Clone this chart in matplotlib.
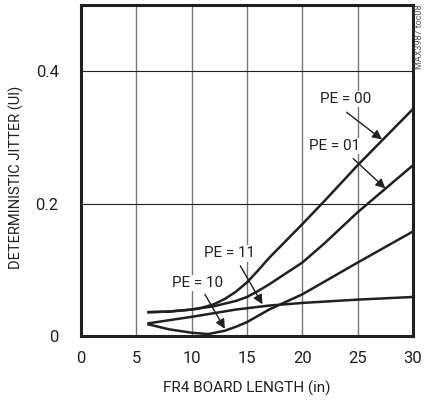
import matplotlib
matplotlib.use("Agg")
import matplotlib.pyplot as plt

plt.rcParams['font.family'] = ['Roboto', 'DejaVu Sans']

pe00_x = [6, 8, 10, 11, 12, 13, 14, 15, 16, 17, 18, 20, 22, 25, 30]
pe00_y = [0.036, 0.037, 0.040, 0.043, 0.048, 0.056, 0.067, 0.081, 0.099, 0.118, 0.135, 0.169, 0.204, 0.258, 0.343]
pe01_x = [6, 8, 10, 12, 14, 15, 16, 17, 18, 20, 22, 25, 30]
pe01_y = [0.036, 0.037, 0.040, 0.045, 0.053, 0.059, 0.068, 0.078, 0.089, 0.111, 0.140, 0.187, 0.258]
pe11_x = [6, 10, 14, 17, 20, 25, 30]
pe11_y = [0.019, 0.029, 0.040, 0.046, 0.050, 0.055, 0.059]
pe10_x = [6, 8, 10, 11.5, 13, 14, 15, 17, 20, 25, 30]
pe10_y = [0.018, 0.010, 0.005, 0.003, 0.008, 0.014, 0.021, 0.040, 0.063, 0.111, 0.158]

xticks = [0, 5, 10, 15, 20, 25, 30]
xtick_labels = ['0', '5', '10', '15', '20', '25', '30']
yticks = [0, 0.2, 0.4]
ytick_labels = ['0', '0.2', '0.4']

fig = plt.figure(figsize=(4.26, 4.01), dpi=100)
ax = fig.add_axes([0.190, 0.162, 0.7795, 0.8255])

for xs, ys in [(pe00_x, pe00_y), (pe01_x, pe01_y), (pe11_x, pe11_y), (pe10_x, pe10_y)]:
    ax.plot(xs, ys, color='#231f20', lw=1.8, solid_capstyle='butt', solid_joinstyle='round', zorder=6)

ax.set_xlim(0, 30)
ax.set_ylim(0, 0.5)
ax.set_xticks(xticks)
ax.set_xticklabels(xtick_labels)
ax.set_yticks(yticks)
ax.set_yticklabels(ytick_labels)
ax.tick_params(length=0, labelsize=12, pad=11, colors='#231f20')
ax.tick_params(axis='y', pad=16)
for v in [5, 10, 15, 20, 25]:
    ax.axvline(v, color='#777777', lw=1.0, zorder=1)
for v in [0.2, 0.4]:
    ax.axhline(v, color='#231f20', lw=0.8, zorder=1)
for s in ax.spines.values():
    s.set_linewidth(2.2)
    s.set_color('#231f20')
    s.set_zorder(7)

ax.set_xlabel('FR4 BOARD LENGTH (in)', fontsize=11, color='#231f20')
ax.xaxis.set_label_coords(0.5, -0.135)
ax.set_ylabel('DETERMINISTIC JITTER (UI)', fontsize=10.5, color='#231f20')
ax.yaxis.set_label_coords(-0.17, 0.48)

bbox = dict(facecolor='white', edgecolor='none', pad=1)
arrow = dict(arrowstyle='-|>', color='#231f20', lw=1.0, mutation_scale=14, shrinkA=0, shrinkB=0)
annots = [
    ('PE = 00', (23.9, 0.358), (24.0, 0.338), (27.2, 0.297)),
    ('PE = 01', (22.9, 0.287), (24.6, 0.268), (27.5, 0.223)),
    ('PE = 11', (13.4, 0.125), (14.4, 0.106), (16.4, 0.048)),
    ('PE = 10', (10.5, 0.080), (11.2, 0.063), (13.0, 0.011)),
]
for label, tpos, start, tip in annots:
    ax.annotate('', xy=tip, xytext=start, arrowprops=arrow, zorder=6)
    ax.text(tpos[0], tpos[1], label, fontsize=11, ha='center', va='center',
            color='#231f20', bbox=bbox, zorder=5)

fig.text(0.985, 0.99, 'MAX3987 toc08', rotation=90, fontsize=6.5, ha='center', va='top',
         color='#555555')

fig.savefig('out.png', dpi=100)
